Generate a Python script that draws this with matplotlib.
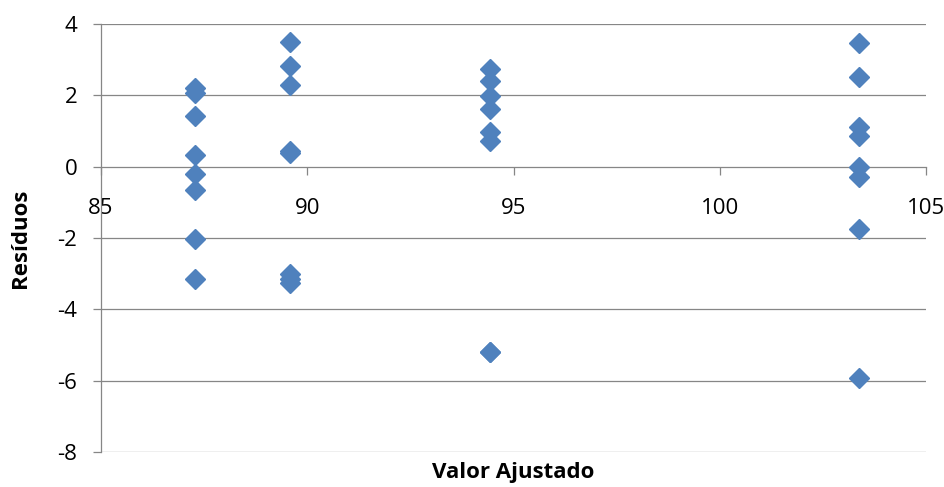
import numpy as np
import matplotlib
matplotlib.use('Agg')
import matplotlib.pyplot as plt

plt.rcParams['font.family'] = ['Open Sans', 'DejaVu Sans']
plt.rcParams['axes.unicode_minus'] = False

# fitted values (one per group) and residuals
fitted = [87.27, 89.58, 94.43, 103.38]
res_g1 = [2.19, 2.07, 1.43, 0.31, -0.20, -0.67, -2.03, -3.15]
res_g2 = [3.48, 2.83, 2.30, 0.44, 0.38, -3.02, -3.14, -3.26]
res_g3 = [2.74, 2.41, 1.99, 1.62, 0.96, 0.71, -5.21, -5.21]
res_g4 = [3.46, 2.52, 1.10, 0.87, -0.02, -0.28, -1.75, -5.92]

x = np.repeat(fitted, 8)
y = np.concatenate([res_g1, res_g2, res_g3, res_g4])

xticks = [85, 90, 95, 100, 105]
yticks = [-8, -6, -4, -2, 0, 2, 4]

grey = '#868686'

fig = plt.figure(figsize=(9.44, 4.87), dpi=100)
ax = fig.add_axes([0.107, 0.072, 0.874, 0.879])

ax.plot(x, y, 'D', color='#4F81BD', ms=10.5, mec='#4F81BD', zorder=3, clip_on=False)

ax.set_xlim(85, 105)
ax.set_ylim(-8, 4)
ax.set_xticks(xticks)
ax.set_yticks(yticks)

for v in yticks:
    if v != 0:
        ax.axhline(v, color=grey, lw=0.9, zorder=1)

ax.spines['top'].set_visible(False)
ax.spines['right'].set_visible(False)
ax.spines['left'].set_color(grey)
ax.spines['bottom'].set_color(grey)
ax.spines['left'].set_linewidth(0.9)
ax.spines['bottom'].set_linewidth(0.9)
ax.spines['bottom'].set_position(('data', 0))
ax.spines['bottom'].set_zorder(1)

ax.tick_params(axis='y', direction='out', length=6, width=0.9, color=grey,
               pad=11, labelsize=16)
ax.tick_params(axis='x', direction='out', length=6, width=0.9, color=grey,
               pad=17, labelsize=16)

ax.set_xlabel('Valor Ajustado', fontsize=16, fontweight='bold')
ax.set_ylabel('Resíduos', fontsize=16, fontweight='bold')
ax.xaxis.set_label_coords(0.5, -0.047)
ax.xaxis.label.set_va('center')
ax.yaxis.set_label_coords(-0.098, 0.5)
ax.yaxis.label.set_va('center')

fig.savefig('out.png', dpi=100)
